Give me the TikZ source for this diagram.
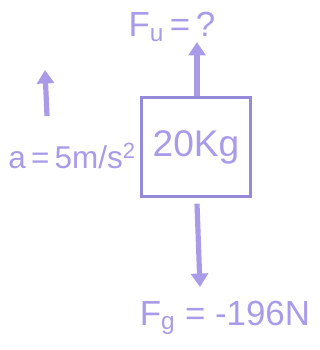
\documentclass[tikz,border=0pt]{standalone}
\usepackage{fontspec}
\setmainfont{Liberation Sans}
\usetikzlibrary{arrows.meta, positioning}
\definecolor{Lav}    {HTML}{A99BE8}
\definecolor{LavDark}{HTML}{958AD9}
\tikzset{
  blk/.style={draw=LavDark, line width=2.6pt, minimum width=3.4cm, minimum height=3.1cm,
              text=Lav, font=\fontsize{33}{36}\selectfont, inner sep=0pt},
  lbl/.style={text=Lav, font=\fontsize{31}{34}\selectfont, inner sep=0pt},
  arr/.style={-{Triangle[width=15pt,length=12pt]}, line width=4.6pt, color=Lav}
}

\begin{document}
\begin{tikzpicture}[x=0.03125cm, y=-0.03125cm]
  \useasboundingbox (0,0) rectangle (320,350);
  \node[blk] (M) at (196,147) {20Kg};
  \coordinate (Up)   at (197,42);
  \coordinate (Down) at (200,287);
  \coordinate (A0)   at (47,116);
  \coordinate (A1)   at (45,70);
  \node[lbl] (Fu) at (172,27) {F\textsubscript{u}\,=\,?};
  \node[lbl, font=\fontsize{28}{32}\selectfont] (Acc) at (72,156) {a\,=\,5m/s\textsuperscript{2}};
  \node[lbl] (Fg) at (225,318) {F\textsubscript{g} = -196N};
  \draw[arr] (M.north -| Up) -- (Up);
  \draw[arr] ([yshift=-5pt]M.south -| Up) -- (Down);
  \draw[arr] (A0) -- (A1);
\end{tikzpicture}
\end{document}
